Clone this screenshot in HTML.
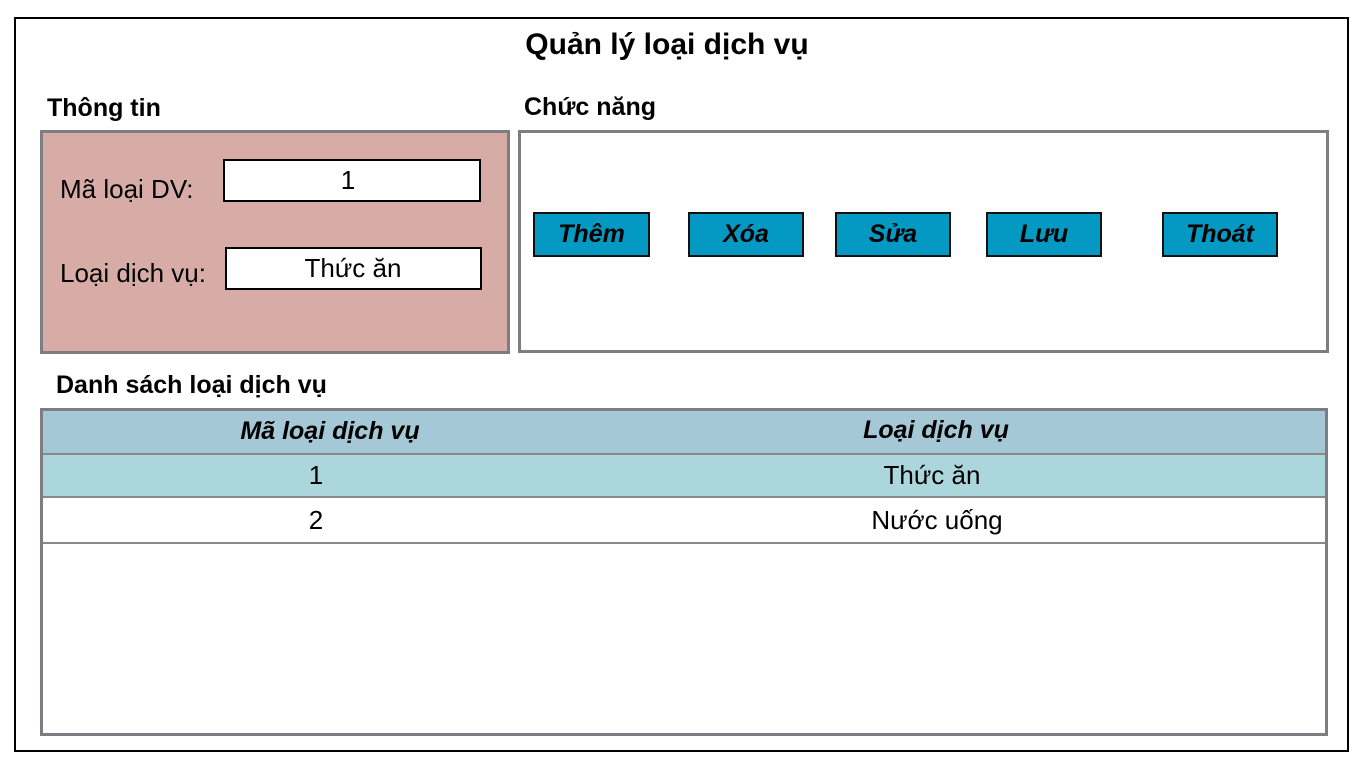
<!DOCTYPE html>
<html><head><meta charset="utf-8"><style>
body{margin:0;width:1366px;height:768px;background:#fff;position:relative;overflow:hidden;font-family:"Liberation Sans Narrow","Liberation Sans",sans-serif;}
.a{position:absolute;box-sizing:border-box;}
.t{position:absolute;white-space:nowrap;color:#000;}
.c{transform:translateX(-50%);}
.l{}
.b{font-weight:bold;}
.btn{position:absolute;box-sizing:border-box;background:#0399c2;border:2px solid #111;height:45px;top:212px;text-align:center;line-height:41px;font-weight:bold;font-style:italic;font-size:25px;}
</style></head><body>
<div class="a" style="left:14px;top:17px;width:1335px;height:735px;border:2px solid #000"></div>
<div class="t b c" style="left:667px;top:28px;font-size:30px">Quản lý loại dịch vụ</div>
<div class="t b l" style="left:47px;top:94px;font-size:25px">Thông tin</div>
<div class="t b l" style="left:524px;top:93px;font-size:25px">Chức năng</div>
<div class="a" style="left:40px;top:130px;width:470px;height:224px;background:#d7aca7;border:3px solid #7d7d83"></div>
<div class="t l" style="left:60px;top:174px;font-size:26px">Mã loại DV:</div>
<div class="t l" style="left:60px;top:258px;font-size:26px">Loại dịch vụ:</div>
<div class="a" style="left:223px;top:159px;width:258px;height:43px;background:#fff;border:2px solid #000"></div>
<div class="a" style="left:225px;top:247px;width:257px;height:43px;background:#fff;border:2px solid #000"></div>
<div class="t c" style="left:348px;top:165px;font-size:26px">1</div>
<div class="t c" style="left:353px;top:253px;font-size:26px">Thức ăn</div>
<div class="a" style="left:518px;top:130px;width:811px;height:223px;background:#fff;border:3px solid #7d7d83"></div>
<div class="btn" style="left:533px;width:117px">Thêm</div>
<div class="btn" style="left:688px;width:116px">Xóa</div>
<div class="btn" style="left:835px;width:116px">Sửa</div>
<div class="btn" style="left:986px;width:116px">Lưu</div>
<div class="btn" style="left:1162px;width:116px">Thoát</div>
<div class="t b l" style="left:56px;top:371px;font-size:25px">Danh sách loại dịch vụ</div>
<div class="a" style="left:40px;top:408px;width:1288px;height:328px;background:#fff;border:3px solid #7d7d83"></div>
<div class="a" style="left:43px;top:411px;width:1282px;height:42px;background:#a5c8d6"></div>
<div class="a" style="left:43px;top:453px;width:1282px;height:45px;background:#aad6dc;border-top:2px solid #888;border-bottom:2px solid #888"></div>
<div class="a" style="left:43px;top:542px;width:1282px;height:2px;background:#888"></div>
<div class="t b c" style="left:330px;top:417px;font-size:25px;font-style:italic">Mã loại dịch vụ</div>
<div class="t b c" style="left:936px;top:416px;font-size:25px;font-style:italic">Loại dịch vụ</div>
<div class="t c" style="left:316px;top:460px;font-size:26px">1</div>
<div class="t c" style="left:932px;top:460px;font-size:26px">Thức ăn</div>
<div class="t c" style="left:316px;top:505px;font-size:26px">2</div>
<div class="t c" style="left:937px;top:505px;font-size:26px">Nước uống</div>
</body></html>
